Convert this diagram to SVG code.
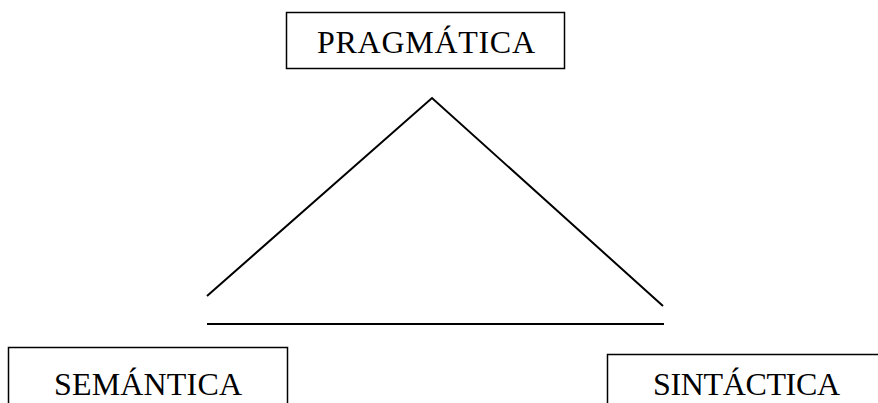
<svg xmlns="http://www.w3.org/2000/svg" width="878" height="403" viewBox="0 0 878 403">
<style>
.box{fill:#fff;stroke:#000;stroke-width:1.5}
.lbl{font-family:"Liberation Serif","Times New Roman",serif;font-size:32px;fill:#000}
.ln{stroke:#000;stroke-width:2;fill:none}
</style>
<rect width="878" height="403" fill="#fff"/>
<g id="pragmatica">
<rect class="box" x="286.5" y="12.5" width="278" height="56"/>
<text class="lbl" x="426" y="53" text-anchor="middle" textLength="218">PRAGMÁTICA</text>
</g>
<g id="semantica">
<rect class="box" x="8.5" y="347.5" width="279" height="60"/>
<text class="lbl" x="148" y="395" text-anchor="middle" textLength="188">SEMÁNTICA</text>
</g>
<g id="sintactica">
<rect class="box" x="607.5" y="354.5" width="290" height="60"/>
<text class="lbl" x="746.5" y="395" text-anchor="middle" textLength="187">SINTÁCTICA</text>
</g>
<g id="connectors">
<polyline class="ln" points="207,296 432,98 663,306"/>
<line class="ln" x1="207" y1="324" x2="664" y2="324"/>
</g>
</svg>
